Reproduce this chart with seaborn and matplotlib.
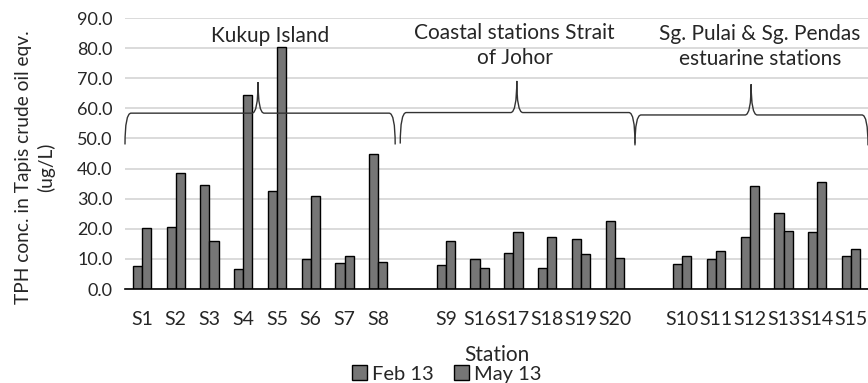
import matplotlib
matplotlib.use("Agg")
import matplotlib.pyplot as plt
from matplotlib.path import Path
from matplotlib.patches import PathPatch, Patch
import numpy as np
import pandas as pd
import seaborn as sns

# ─── Data ────────────────────────────────────────────────────────────────
stations = ["S1", "S2", "S3", "S4", "S5", "S6", "S7", "S8",
            "S9", "S16", "S17", "S18", "S19", "S20",
            "S10", "S11", "S12", "S13", "S14", "S15"]
feb13 = [7.7, 20.7, 34.4, 6.6, 32.7, 9.9, 8.6, 45.0,
         8.0, 10.1, 12.1, 6.9, 16.7, 22.6,
         8.4, 10.1, 17.4, 25.2, 18.8, 11.0]
may13 = [20.4, 38.6, 16.0, 64.4, 80.5, 31.0, 10.8, 8.9,
         16.1, 6.9, 18.9, 17.4, 11.7, 10.4,
         11.0, 12.6, 34.2, 19.2, 35.7, 13.2]
# x order with one empty slot between station groups
order = ["S1", "S2", "S3", "S4", "S5", "S6", "S7", "S8", " ",
         "S9", "S16", "S17", "S18", "S19", "S20", "  ",
         "S10", "S11", "S12", "S13", "S14", "S15"]
group_labels = ["Kukup Island",
                "Coastal stations Strait\nof Johor",
                "Sg. Pulai & Sg. Pendas\nestuarine stations"]

df = pd.DataFrame({
    "Station": stations * 2,
    "value": feb13 + may13,
    "period": ["Feb 13"] * len(stations) + ["May 13"] * len(stations),
})

# ─── Style ───────────────────────────────────────────────────────────────
sns.set_theme(style="white")
plt.rcParams["font.family"] = ["Lato", "DejaVu Sans"]
BAR = "#767676"

fig = plt.figure(figsize=(8.68, 3.83), dpi=100)
ax = fig.add_axes([0.144, 0.2454, 0.856, 0.7076])

sns.barplot(data=df, x="Station", y="value", hue="period", order=order,
            palette=[BAR, BAR], width=0.54, gap=0, edgecolor="black",
            linewidth=1.0, ax=ax, legend=False, zorder=3)

ax.set_ylim(0, 90)
ax.set_xlim(-0.5, len(order) - 0.5)
ax.set_yticks(np.arange(0, 91, 10))
ax.set_yticklabels([f"{v:.1f}" for v in np.arange(0, 91, 10)], fontsize=13)
ax.tick_params(axis="x", labelsize=14, pad=16, length=0)
ax.tick_params(axis="y", pad=9, length=0)
ax.grid(axis="y", color="#d4d4d4", linewidth=1.2, zorder=0)
for s in ["top", "right", "left"]:
    ax.spines[s].set_visible(False)
ax.spines["bottom"].set_color("black")
ax.spines["bottom"].set_linewidth(1.2)
ax.spines["bottom"].set_zorder(4)

ax.set_xlabel("Station", fontsize=15, labelpad=12)
ax.set_ylabel("TPH conc. in Tapis crude oil eqv.\n(ug/L)", fontsize=13.8,
              linespacing=1.3, labelpad=16)
ax.yaxis.label.set_y(0.45)


# ─── Curly braces over station groups ────────────────────────────────────
def draw_brace(ax, x0, x1, xm, y_low, y_flat, y_tip, d=0.18):
    verts = [(x0, y_low), (x0, y_flat), (x0 + d, y_flat),
             (xm - d, y_flat),
             (xm, y_flat), (xm, y_tip),
             (xm, y_flat), (xm + d, y_flat),
             (x1 - d, y_flat),
             (x1, y_flat), (x1, y_low)]
    codes = [Path.MOVETO, Path.CURVE3, Path.CURVE3,
             Path.LINETO,
             Path.CURVE3, Path.CURVE3,
             Path.CURVE3, Path.CURVE3,
             Path.LINETO,
             Path.CURVE3, Path.CURVE3]
    ax.add_patch(PathPatch(Path(verts, codes), fill=False, edgecolor="#333333",
                           linewidth=1.0, clip_on=False, zorder=5))


braces = [(-0.5, 7.5, 3.44, 48.0, 58.4, 68.7),
          (7.65, 14.6, 11.1, 48.3, 58.6, 69.1),
          (14.6, 21.5, 18.04, 47.7, 57.8, 68.0)]
for b in braces:
    draw_brace(ax, *b)

label_pos = [(3.8, 84.0), (11.04, 80.8), (18.3, 80.5)]
for (x, y), txt in zip(label_pos, group_labels):
    ax.text(x, y, txt, ha="center", va="center", fontsize=15,
            linespacing=1.3, zorder=6)

# ─── Legend ──────────────────────────────────────────────────────────────
handles = [Patch(facecolor=BAR, edgecolor="black", label="Feb 13"),
           Patch(facecolor=BAR, edgecolor="black", label="May 13")]
fig.legend(handles=handles, loc="center", bbox_to_anchor=(0.515, 0.024),
           ncol=2, frameon=False, fontsize=14.5, handlelength=0.75,
           handleheight=0.75, handletextpad=0.25, columnspacing=1.0)

fig.savefig("out.png", dpi=100)
